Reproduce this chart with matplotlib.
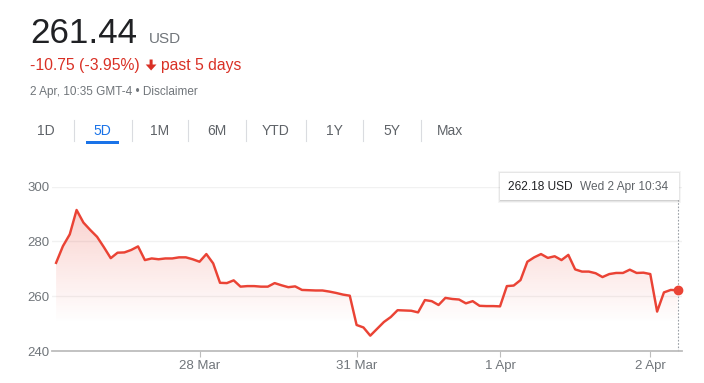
import numpy as np
import matplotlib.pyplot as plt
import matplotlib.transforms as mtransforms
from matplotlib.patches import Rectangle, Polygon
from matplotlib.lines import Line2D

plt.rcParams['font.family'] = ['Liberation Sans', 'DejaVu Sans']

# price points (5D view, one point per interval)
prices = [
    272.2, 278.3, 282.6, 291.5, 286.9, 284.2, 281.7, 277.9, 273.9, 275.9,
    276.0, 276.9, 278.2, 273.2, 273.8, 273.5, 273.8, 273.8, 274.2, 274.2,
    273.5, 272.6, 275.4, 272.0, 264.9, 264.8, 265.8, 263.5, 263.7, 263.7,
    263.5, 263.5, 264.8, 264.0, 263.3, 263.6, 262.3, 262.2, 262.1, 262.1,
    261.7, 261.2, 260.6, 260.2,
    249.5, 248.6, 245.6, 248.1, 250.6, 252.4, 254.9, 254.8, 254.7, 254.1,
    258.6, 258.2, 256.8, 259.4, 259.0, 258.8, 257.4, 258.2, 256.5, 256.4,
    256.4, 256.3, 263.7, 263.9, 265.9, 272.6, 274.2, 275.4, 274.0, 274.6,
    273.2, 275.1, 269.8, 269.0, 269.0, 268.4, 267.0, 268.1, 268.5, 268.5,
    269.7, 268.5, 268.6, 268.1, 254.4, 261.4, 262.3, 262.18,
]
day_labels = ['28 Mar', '31 Mar', '1 Apr', '2 Apr']
day_idx = [21, 44, 65, 87]
y_ticks = [240, 260, 280, 300]

price_now = '261.44'
currency = 'USD'
change_text = '-10.75 (-3.95%)'
period_text = 'past 5 days'
stamp_text = '2 Apr, 10:35 GMT-4 \u2022 Disclaimer'
tabs = ['1D', '5D', '1M', '6M', 'YTD', '1Y', '5Y', 'Max']
active_tab = '5D'
tip_price = '262.18 USD'
tip_time = 'Wed 2 Apr 10:34'

RED = '#ea4335'
TXT_RED = '#d93025'
GRAY = '#70757a'
BLUE = '#1a73e8'

W, H = 704, 383
fig = plt.figure(figsize=(W / 100, H / 100), dpi=100)


def fx(px):
    return px / W


def fy(py):
    return 1 - py / H


# ---- header ----
fig.text(fx(30), fy(43), price_now, fontsize=25.2, color='#202124', va='baseline')
fig.text(fx(149), fy(43), currency, fontsize=11, color=GRAY, va='baseline')
fig.text(fx(30), fy(70), change_text, fontsize=11.3, color=TXT_RED, va='baseline')
arrow = Polygon([(fx(149.6), fy(59.5)), (fx(152.6), fy(59.5)), (fx(152.6), fy(64.5)),
                 (fx(156.5), fy(64.5)), (fx(151.1), fy(70.5)), (fx(145.7), fy(64.5)),
                 (fx(149.6), fy(64.5))], closed=True, transform=fig.transFigure,
                color=TXT_RED, lw=0)
fig.add_artist(arrow)
fig.text(fx(161), fy(70), period_text, fontsize=11.3, color=TXT_RED, va='baseline')
fig.text(fx(30), fy(95), stamp_text, fontsize=8.5, color=GRAY, va='baseline')

# ---- tabs ----
tab_x = [46, 102.7, 160, 216.7, 276, 334.3, 391.7, 450]
sep_x = [74, 131.7, 188.3, 245.7, 306, 363.3, 420.7]
for lab, cx in zip(tabs, tab_x):
    fig.text(fx(cx), fy(131), lab, fontsize=10, ha='center', va='center',
             color=BLUE if lab == active_tab else '#5f6368')
for sx in sep_x:
    fig.add_artist(Line2D([fx(sx), fx(sx)], [fy(119.5), fy(140.5)], color='#dadce0', lw=0.8))
fig.add_artist(Rectangle((fx(86), fy(144.3)), fx(118.7) - fx(86), fy(141) - fy(144.3),
                         transform=fig.transFigure, color=BLUE, lw=0))

# ---- chart ----
x = np.arange(len(prices))
ax = fig.add_axes([fx(52), fy(351), (681.7 - 52) / W, (351 - 186.7) / H])

poly = ax.fill_between(x, prices, 240, color='none', lw=0)
ymin, ymax = 240, max(prices)
grad = np.zeros((200, 2, 4))
grad[..., 0], grad[..., 1], grad[..., 2] = 234 / 255, 67 / 255, 53 / 255
ys = np.linspace(ymin, ymax, 200)
alpha = np.clip((ys - 250) / (ymax - 250), 0, 1) * 0.24
grad[..., 3] = alpha[:, None]
im = ax.imshow(grad, extent=[0, len(prices) - 1, ymin, ymax], origin='lower',
               aspect='auto', zorder=1)
im.set_clip_path(poly.get_paths()[0], transform=ax.transData)

ax.plot(x, prices, color=RED, lw=1.75, zorder=3, solid_joinstyle='round')
ax.plot(x[-1], prices[-1], 'o', ms=6, color=RED, zorder=4, clip_on=False)

ax.set_xlim(-0.6, 91.6)
ax.set_ylim(240, 300)
ax.set_yticks(y_ticks)
ax.set_xticks(day_idx, day_labels)
ax.yaxis.grid(True, color='#f1f1f1', lw=1)
ax.set_axisbelow(True)
for s in ['top', 'right', 'left']:
    ax.spines[s].set_visible(False)
ax.spines['bottom'].set_color('#bdbdbd')
ax.spines['bottom'].set_linewidth(1.3)
ax.tick_params(axis='y', length=0, pad=1.5, labelsize=9.5, labelcolor=GRAY)
ax.tick_params(axis='x', length=4, width=0.8, color='#bdbdbd', pad=2.5,
               labelsize=9.5, labelcolor=GRAY)

# hover marker line
trans = mtransforms.blended_transform_factory(ax.transData, ax.transAxes)
ax.plot([x[-1], x[-1]], [0, (351 - 200) / (351 - 186.7)], transform=trans,
        color='#9aa0a6', lw=0.8, ls=(0, (1.5, 1.5)), clip_on=False, zorder=2)

# ---- tooltip ----
bx0, by0, bx1, by1 = 500, 173.3, 679, 200
for off, a in [(3, 0.04), (2, 0.06), (1, 0.09)]:
    fig.add_artist(Rectangle((fx(bx0 - off + 1), fy(by1 + off)), (bx1 - bx0 + 2 * off - 2) / W,
                             (by1 - by0 + 2 * off - 1) / H, transform=fig.transFigure,
                             color='black', alpha=a, lw=0))
fig.add_artist(Rectangle((fx(bx0), fy(by1)), (bx1 - bx0) / W, (by1 - by0) / H,
                         transform=fig.transFigure, color='white', lw=0))
fig.text(fx(508), fy(187), tip_price, fontsize=8.6, color='#202124', va='center')
fig.text(fx(580), fy(187), tip_time, fontsize=8.6, color='#5f6368', va='center')

fig.savefig('out.png', dpi=100)
